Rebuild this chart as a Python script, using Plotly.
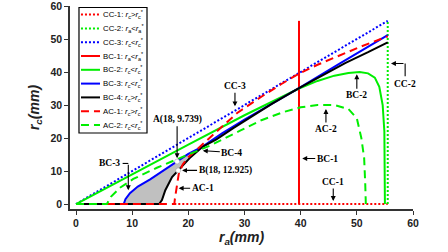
import plotly.graph_objects as go

# ---- data ----
cc1_x = [17.5, 55.5]
cc1_y = [0, 0]
cc2_x = [55.5, 55.5]
cc2_y = [0, 55.5]
cc3_x = [0, 55.5]
cc3_y = [0, 55.5]
bc1_x = [39.7, 39.7]
bc1_y = [0, 55.5]
bc2_x = [0, 10, 20, 30, 35, 39.7, 43, 46, 48.5, 50.5, 52, 53.2, 54.0, 54.6, 54.9, 55.0, 55.0]
bc2_y = [0, 9.1, 18.0, 26.9, 31.2, 35.0, 37.3, 38.9, 39.7, 40.0, 39.6, 38.3, 35.5, 30.0, 22.0, 10.0, 0]
bc3_x = [8.5, 8.8, 9.6, 11.0, 13.2, 15.5, 18.0, 20.0, 22.6, 26.0, 30.0, 35.0, 39.7, 47.0, 55.5]
bc3_y = [0, 1.5, 3.3, 5.3, 7.5, 10.1, 12.9, 15.2, 17.5, 21.4, 25.6, 30.5, 35.1, 42.6, 51.2]
bc4_x = [0, 14.8, 15.3, 15.9, 17.1, 18.2, 18.6, 20.4, 22.6, 25.0, 28.0, 31.0, 35.0, 39.7, 44.0, 48.0, 52.0, 55.5]
bc4_y = [0, 0, 1.2, 4.2, 8.2, 10.2, 11.2, 14.2, 17.4, 19.6, 23.0, 26.3, 30.5, 35.1, 39.2, 42.8, 46.0, 49.0]
ac1_x = [5.5, 17.5, 17.6, 17.9, 18.3, 19.0, 20.0, 21.5, 23.0, 25.5, 28.7, 33.0, 36.5, 39.7, 43.0, 46.5, 50.7, 55.5]
ac1_y = [0, 0, 1.5, 5.0, 9.2, 12.0, 14.2, 16.5, 18.8, 22.6, 27.6, 32.5, 36.3, 39.5, 42.2, 44.7, 47.7, 50.8]
ac2_x = [0, 5.5, 6.2, 7.9, 10.2, 14.4, 19.0, 24.0, 29.3, 33.0, 37.0, 40.0, 43.0, 46.0, 48.5, 50.0, 50.8, 51.3, 51.5, 51.6]
ac2_y = [0, 0, 2.2, 5.0, 7.6, 11.0, 14.3, 17.8, 22.3, 25.4, 27.9, 29.3, 30.0, 30.0, 28.8, 26.0, 20.0, 14.0, 6.0, 0]
pt_x = [18.0, 18.2]
pt_y = [12.9, 10.2]
x_ticks = [0, 10, 20, 30, 40, 50, 60]
y_ticks = [0, 10, 20, 30, 40, 50, 60]

RED, GREEN, BLUE, BLACK = "#ff0000", "#00ee00", "#0000ff", "#000000"

def lab(name, a, b, op):
    return (f"{name}: <i>r</i><sub>{a}</sub>{op}<i>r</i><sub>{b}</sub><sup>*</sup>")

fig = go.Figure()

# gray region between BC-3 and BC-4
JOIN = 22.6
fx = [x for x in bc3_x if x <= JOIN] + [x for x in bc4_x if 14.8 <= x <= JOIN][::-1]
fy = [y for x, y in zip(bc3_x, bc3_y) if x <= JOIN] + \
     [y for x, y in zip(bc4_x, bc4_y) if 14.8 <= x <= JOIN][::-1]
fig.add_trace(go.Scatter(x=fx, y=fy, fill="toself", fillcolor="#c0c0c0",
                         line=dict(width=0), mode="lines", showlegend=False,
                         hoverinfo="skip"))

DOT = "2px,2px"
DASH = "8px,5px"
traces = [
    (cc1_x, cc1_y, RED, DOT, lab("CC-1", "c", "c", "&gt;")),
    (cc2_x, cc2_y, GREEN, DOT, lab("CC-2", "a", "a", "&lt;")),
    (cc3_x, cc3_y, BLUE, DOT, lab("CC-3", "c", "c", "&lt;")),
    (bc1_x, bc1_y, RED, "solid", lab("BC-1", "a", "a", "&lt;")),
    (bc2_x, bc2_y, GREEN, "solid", lab("BC-2", "c", "c", "&lt;")),
    (bc3_x, bc3_y, BLUE, "solid", lab("BC-3", "c", "c", "&lt;")),
    (bc4_x, bc4_y, BLACK, "solid", lab("BC-4", "c", "c", "&gt;")),
    (ac1_x, ac1_y, RED, DASH, lab("AC-1", "c", "c", "&gt;")),
    (ac2_x, ac2_y, GREEN, DASH, lab("AC-2", "c", "c", "&lt;")),
]
for x, y, c, d, n in traces:
    fig.add_trace(go.Scatter(x=x, y=y, mode="lines", name=n, showlegend=False,
                             line=dict(color=c, width=2, dash=d)))

fig.add_trace(go.Scatter(x=pt_x, y=pt_y, mode="markers", showlegend=False,
                         marker=dict(color="white", size=5,
                                     line=dict(color="#999999", width=0.5))))

# ---- compact legend box (paper coordinates; plot area spans y px 6..209) ----
TOP, BOT = 6, 209
H = BOT - TOP
fig.add_shape(type="rect", xref="paper", yref="paper", x0=0.0262, x1=0.2245,
              y0=(BOT - 133) / H, y1=(BOT - 7.5) / H, line=dict(color="black", width=1.2),
              fillcolor="white", layer="above")
for i, (_, _, c, d, n) in enumerate(traces):
    py = 14.6 + 13.8 * i
    yy = (BOT - py) / H
    fig.add_shape(type="line", xref="paper", yref="paper", x0=0.032, x1=0.0875,
                  y0=yy, y1=yy, line=dict(color=c, width=2, dash=d), layer="above")
    fig.add_annotation(xref="paper", yref="paper", x=0.0904, y=yy, text=n,
                       showarrow=False, xanchor="left", yanchor="middle",
                       font=dict(family="Liberation Sans, Arial, sans-serif", size=7.8, color="black"))

AF = dict(family="Liberation Serif, Times New Roman, serif", size=9.5, color="black", weight="bold")

def arrow(x, y, ax, ay, text=""):
    fig.add_annotation(x=x, y=y, ax=ax, ay=ay, text=text, showarrow=True,
                       arrowhead=2, arrowsize=0.9, arrowwidth=1.1, arrowcolor="black",
                       font=AF, standoff=1)

arrow(28.3, 29.3, 0, -21, "CC-3")
arrow(18.0, 13.6, 0, -40, "A(18, 9.739)")
arrow(22.4, 16.2, 30, 2, "BC-4")
arrow(18.7, 10.2, 44, 0, "B(18, 12.925)")
arrow(18.1, 4.8, 25, 0, "AC-1")
arrow(50.0, 39.6, 0, 22, "BC-2")
arrow(44.5, 29.1, 0, 21, "AC-2")
arrow(40.1, 13.8, 26, 0, "BC-1")
arrow(45.8, 0.6, 0, -20, "CC-1")
# elbow arrows
fig.add_annotation(x=6.05, y=12.3, text="BC-3", showarrow=False, font=AF)
fig.add_shape(type="line", x0=8.3, x1=9.31, y0=12.3, y1=12.3, line=dict(color="black", width=1.1))
arrow(9.31, 3.9, 0, -28)
fig.add_annotation(x=58.6, y=36.3, text="CC-2", showarrow=False, font=AF)
fig.add_shape(type="line", x0=58.6, x1=58.6, y0=38.7, y1=42.6, line=dict(color="black", width=1.1))
arrow(55.9, 42.6, 15, 0)

TF = dict(family="Liberation Sans, Arial, sans-serif", size=10.5, color="#222222", weight="bold")
fig.update_layout(
    width=448, height=252,
    margin=dict(l=70, r=35, t=TOP, b=252 - BOT, autoexpand=False),
    plot_bgcolor="white", paper_bgcolor="white",
    showlegend=False,
    xaxis=dict(range=[-1.07, 60], tickvals=x_ticks, ticks="outside", ticklen=4,
               tickwidth=1.2, tickcolor="#333", showline=True, linecolor="#333",
               linewidth=1.5, showgrid=False, zeroline=False, tickfont=TF, automargin=False,
               ticklabeloverflow="allow",
               title=dict(text="<b><i>r<sub>a</sub>(mm)</i></b>", standoff=2,
                          font=dict(family="Liberation Sans, Arial, sans-serif", size=14, color="#222"))),
    yaxis=dict(range=[-1.5, 60], tickvals=y_ticks, ticks="outside", ticklen=4,
               tickwidth=1.2, tickcolor="#333", showline=True, linecolor="#333",
               linewidth=1.5, showgrid=False, zeroline=False, tickfont=TF, automargin=False,
               ticklabeloverflow="allow",
               title=dict(text="<b><i>r<sub>c</sub>(mm)</i></b>", standoff=8,
                          font=dict(family="Liberation Sans, Arial, sans-serif", size=14, color="#222"))),
)

fig.write_html("out.html", config={"displayModeBar": False},
               post_script="document.body.style.margin='0px';document.body.style.overflow='hidden';")
